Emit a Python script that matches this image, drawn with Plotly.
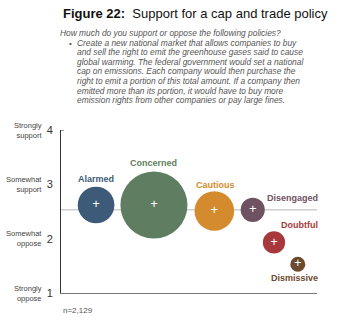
import plotly.graph_objects as go

# ---- data ----
segments = ["Alarmed", "Concerned", "Cautious", "Disengaged", "Doubtful", "Dismissive"]
x_pos = [13.7, 36.3, 59.9, 74.9, 83.2, 92.5]
support = [2.62, 2.62, 2.51, 2.53, 1.93, 1.53]
weight = [30, 100, 35, 13, 11, 5]
mean_support = 2.53
y_ticks = [1, 2, 3, 4]
y_tick_text = ["Strongly<br>oppose", "Somewhat<br>oppose", "Somewhat<br>support", "Strongly<br>support"]
colors = ["#3d5b78", "#5f7d60", "#d48b2e", "#6e5262", "#a8383b", "#6b4a2e"]
label_shift = [(0, 26), (0, 42), (1, 26), (40, 12), (26, 17), (-3, -14)]

W, H = 350, 326
L, R, T, B = 61, 33, 130, 33
PW, PH = W - L - R, H - T - B

def px(x):
    return (x - L) / PW

def py(y):
    return (H - B - y) / PH

FONT = "Liberation Sans, Arial, sans-serif"

fig = go.Figure()
fig.add_trace(go.Scatter(
    x=x_pos, y=support, mode="markers+text",
    text=["+"] * len(segments), textposition="middle center",
    textfont=dict(color="white", size=13, family=FONT),
    marker=dict(size=weight, sizemode="area", sizeref=2 * max(weight) / (67 ** 2),
                color=colors, opacity=1, line=dict(width=0)),
    hoverinfo="skip", showlegend=False, cliponaxis=False,
))

fig.add_shape(type="line", xref="paper", yref="y", x0=0, x1=1, y0=mean_support, y1=mean_support,
              line=dict(color="#cfcfcf", width=1.5), layer="below")

anns = []
for name, xv, yv, c, (dx, dy) in zip(segments, x_pos, support, colors, label_shift):
    anns.append(dict(x=xv, y=yv, xref="x", yref="y", text=f"<b>{name}</b>", showarrow=False,
                     xshift=dx, yshift=dy, font=dict(size=9, color=c, family=FONT)))

for v, t in zip(y_ticks, y_tick_text):
    anns.append(dict(x=px(44), y=v, xref="paper", yref="y", text=t, showarrow=False,
                     xanchor="right", yanchor="middle", align="right",
                     font=dict(size=7.5, color="#444", family=FONT)))

anns.append(dict(x=px(61), y=py(14), xref="paper", yref="paper", showarrow=False,
                 xanchor="left", yanchor="middle",
                 text="<b>Figure 22:</b>  Support for a cap and trade policy",
                 font=dict(size=13, color="#111", family=FONT)))

sub_lines = [
    (58, "How much do you support or oppose the following policies?"),
    (75, "Create a new national market that allows companies to buy"),
    (75, "and sell the right to emit the greenhouse gases said to cause"),
    (75, "global warming. The federal government would set a national"),
    (75, "cap on emissions. Each company would then purchase the"),
    (75, "right to emit a portion of this total amount. If a company then"),
    (75, "emitted more than its portion, it would have to buy more"),
    (75, "emission rights from other companies or pay large fines."),
]
for i, (x0, t) in enumerate(sub_lines):
    yy = 33 + i * 9.6
    anns.append(dict(x=px(x0), y=py(yy), xref="paper", yref="paper", showarrow=False,
                     xanchor="left", yanchor="middle", text=f"<i>{t}</i>",
                     font=dict(size=8.4, color="#555", family=FONT)))
anns.append(dict(x=px(67), y=py(43.2), xref="paper", yref="paper", showarrow=False,
                 xanchor="left", yanchor="middle", text="•",
                 font=dict(size=8, color="#555", family=FONT)))

anns.append(dict(x=px(61), y=py(310), xref="paper", yref="paper", showarrow=False,
                 xanchor="left", yanchor="middle", text="n=2,129",
                 font=dict(size=8, color="#555", family=FONT)))

fig.update_layout(
    width=W, height=H, margin=dict(l=L, r=R, t=T, b=B),
    paper_bgcolor="white", plot_bgcolor="white",
    annotations=anns,
    xaxis=dict(range=[0, 100], showgrid=False, zeroline=False, showticklabels=False,
               ticks="", showline=True, linecolor="#777", linewidth=1),
    yaxis=dict(range=[1, 4], showgrid=False, zeroline=False, tickvals=y_ticks,
               ticktext=[str(v) for v in y_ticks], ticks="", ticklabelstandoff=5,
               tickfont=dict(size=11, color="#333", family=FONT),
               showline=True, linecolor="#333", linewidth=1),
)
fig.add_shape(type="line", xref="paper", yref="y", x0=0, x1=0.012, y0=4, y1=4,
              line=dict(color="#333", width=1))

fig.write_html("out.html")
